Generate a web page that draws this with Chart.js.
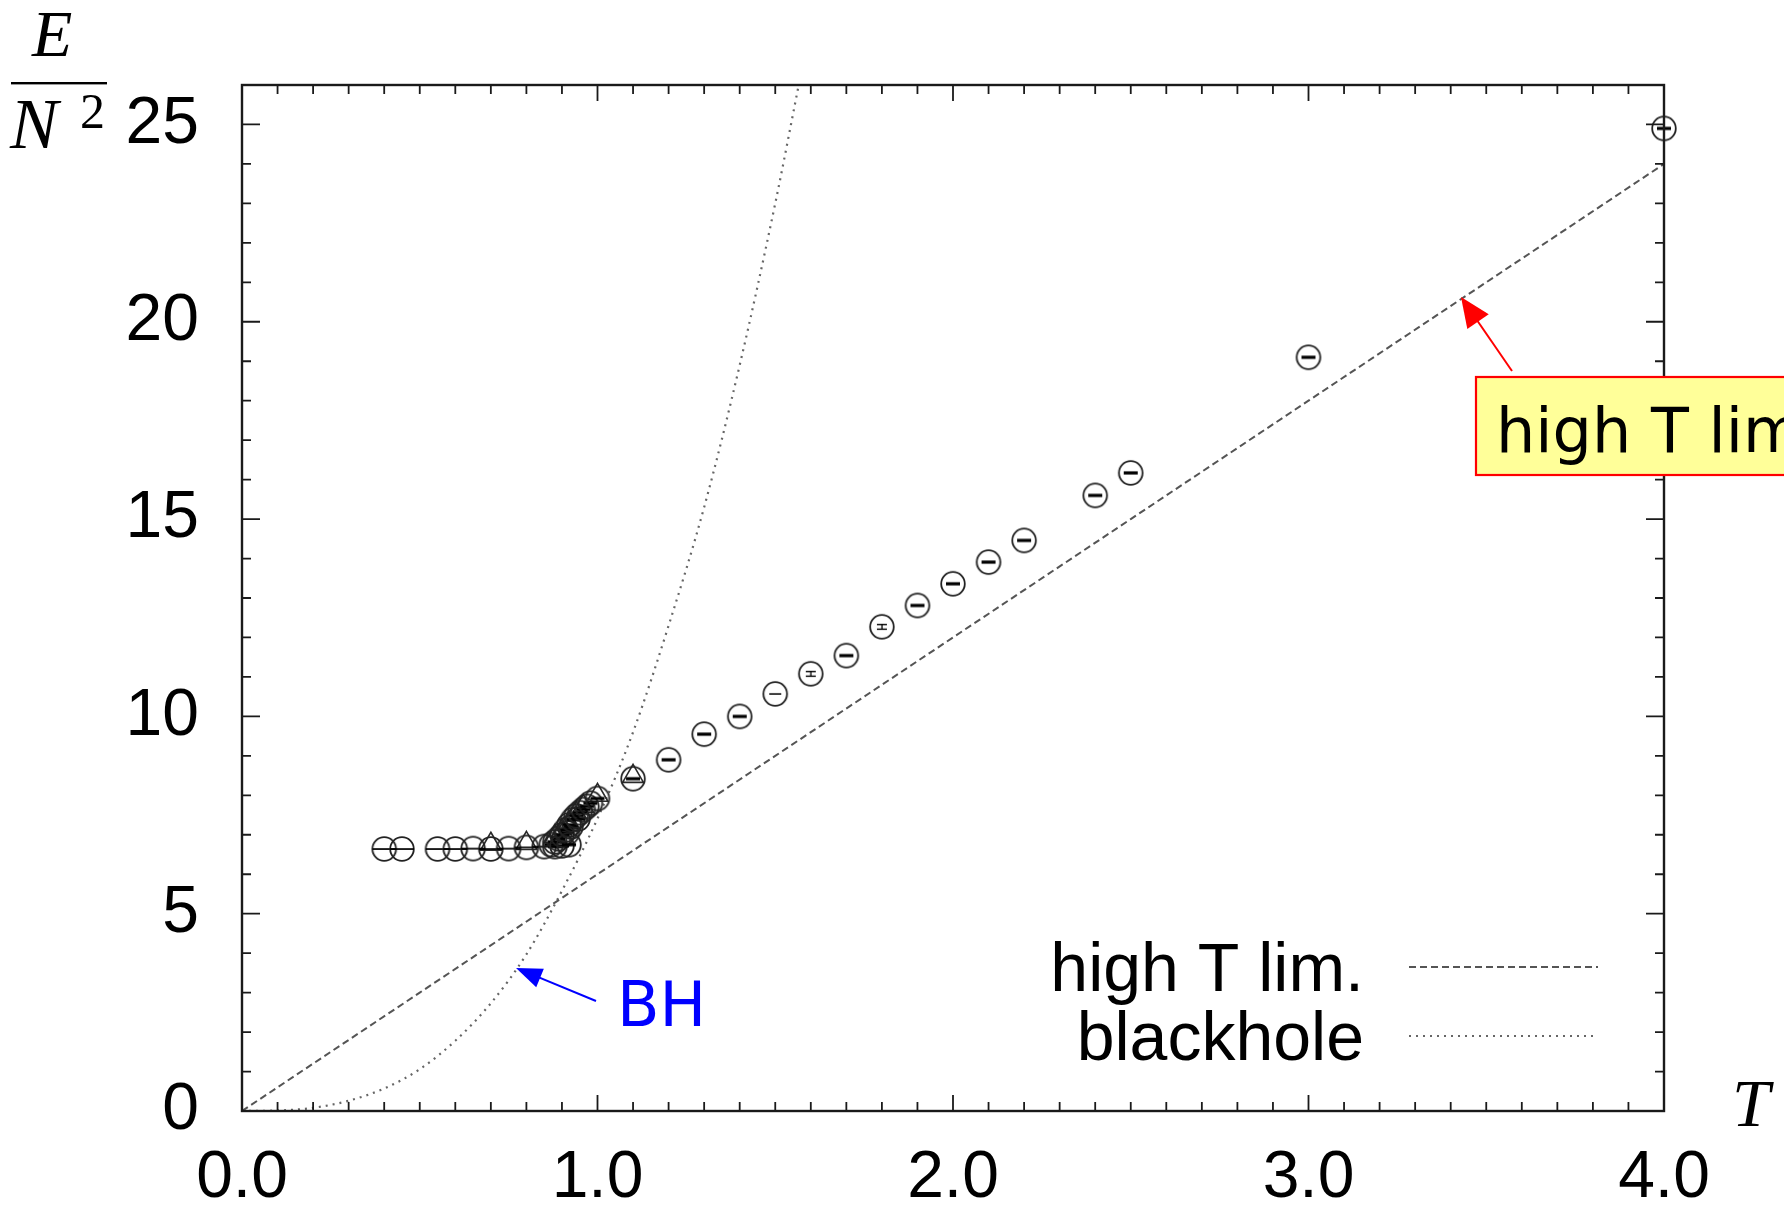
<!DOCTYPE html>
<html><head><meta charset="utf-8">
<script src="https://cdn.jsdelivr.net/npm/chart.js@4.4.1/dist/chart.umd.min.js"></script>
<style>html,body{margin:0;padding:0;background:#fff;}canvas{display:block;}</style>
</head><body>
<canvas id="c" width="1784" height="1210"></canvas>
<script>
// ---- data ----
const circleT = [0.40,0.45,0.55,0.60,0.65,0.70,0.75,0.80,0.85,0.87,0.88,0.88,0.89,0.90,0.90,0.91,0.915,0.92,0.92,0.925,0.93,0.94,0.945,0.95,0.96,0.97,0.98,1.00,1.10,1.20,1.30,1.40,1.50,1.60,1.70,1.80,1.90,2.00,2.10,2.20,2.40,2.50,3.00,4.00];
const circleE = [6.64,6.64,6.64,6.64,6.65,6.64,6.65,6.68,6.70,6.75,6.70,6.82,6.90,6.72,7.00,7.12,7.05,6.75,7.25,7.20,7.38,7.48,7.40,7.56,7.64,7.72,7.80,7.92,8.42,8.90,9.55,10.00,10.57,11.08,11.54,12.27,12.81,13.36,13.91,14.46,15.60,16.17,19.10,24.90];
const triT = [0.70,0.80,0.88,0.90,0.92,0.94,0.96,1.00,1.10];
const triE = [6.76,6.78,6.95,7.10,7.30,7.55,7.72,8.00,8.48];
const highT_T = [0,0.5,1.0,1.5,2.0,2.5,3.0,3.5,4.0];
const highT_E = [0,3.0,6.0,9.0,12.0,15.0,18.0,21.0,24.0];
const bhT = [0,0.1,0.2,0.3,0.4,0.5,0.6,0.7,0.8,0.9,1.0,1.1,1.2,1.3,1.4,1.5,1.566];
const bhE = [0,0.012,0.08,0.26,0.57,1.06,1.78,2.73,3.97,5.58,7.41,9.6,12.3,15.3,18.9,23.0,26.0];
const xTickLabels = ['0.0','1.0','2.0','3.0','4.0'];
const yTickLabels = ['0','5','10','15','20','25'];
const legendLabels = ['high T lim.','blackhole'];

const pts = (xs, ys) => xs.map((v,i)=>({x:v, y:ys[i]}));
const isInt = v => Math.abs(v - Math.round(v)) < 1e-6;

// ---- marker images ----
function marker(kind){
  const c = document.createElement('canvas'); c.width = 30; c.height = 30;
  const g = c.getContext('2d');
  g.strokeStyle = '#222'; g.lineWidth = 1.8;
  g.beginPath(); g.arc(15,15,11.8,0,Math.PI*2); g.stroke();
  g.fillStyle = '#000';
  if (kind === 'low') { g.fillRect(3,14.2,24,1.7); }
  else if (kind === 'mid') { g.fillRect(8,13.4,14,3.2); }
  else if (kind === 'thin') { g.fillRect(9,14.3,12,1.5); }
  else if (kind === 'H') { g.fillRect(10,12,10,1.4); g.fillRect(10,16.7,10,1.4); g.fillRect(14.4,12,1.3,6); }
  return c;
}
const mk = {low:marker('low'), mid:marker('mid'), thin:marker('thin'), H:marker('H')};
function circleStyle(ctx){
  const p = ctx.raw; if (!p) return mk.mid;
  if (p.x < 0.86) return mk.low;
  if (Math.abs(p.x-1.6)<1e-6 || Math.abs(p.x-1.8)<1e-6) return mk.H;
  if (Math.abs(p.x-1.5)<1e-6) return mk.thin;
  return mk.mid;
}

function arrow(ctx, x1,y1,x2,y2, color, lw, headL, headW){
  const ang = Math.atan2(y2-y1, x2-x1);
  ctx.save();
  ctx.strokeStyle = color; ctx.fillStyle = color; ctx.lineWidth = lw;
  ctx.beginPath(); ctx.moveTo(x1,y1);
  ctx.lineTo(x2 - Math.cos(ang)*headL*0.8, y2 - Math.sin(ang)*headL*0.8); ctx.stroke();
  ctx.translate(x2,y2); ctx.rotate(ang);
  ctx.beginPath(); ctx.moveTo(0,0); ctx.lineTo(-headL, headW/2); ctx.lineTo(-headL, -headW/2); ctx.closePath(); ctx.fill();
  ctx.restore();
}

const framePlugin = {
  id:'frame',
  afterDatasetsDraw(chart){
    const {ctx, chartArea:a, scales:{x,y}} = chart;
    ctx.save();
    ctx.strokeStyle = '#1a1a1a'; ctx.lineWidth = 2.4;
    ctx.strokeRect(a.left, a.top, a.right-a.left, a.bottom-a.top);
    ctx.lineWidth = 1.8; ctx.beginPath();
    x.ticks.forEach(t=>{
      const px = x.getPixelForValue(t.value);
      const L = isInt(t.value) ? 16 : 9;
      ctx.moveTo(px, a.bottom); ctx.lineTo(px, a.bottom - L);
      ctx.moveTo(px, a.top); ctx.lineTo(px, a.top + L);
    });
    y.ticks.forEach(t=>{
      const py = y.getPixelForValue(t.value);
      const L = (Math.round(t.value) % 5 === 0) ? 18 : 9;
      ctx.moveTo(a.left, py); ctx.lineTo(a.left + L, py);
      ctx.moveTo(a.right, py); ctx.lineTo(a.right - L, py);
    });
    ctx.stroke();
    ctx.restore();
  },
  afterDraw(chart){
    const ctx = chart.ctx;
    const ds = chart.data.datasets;
    ctx.save();
    // legend (inside plot, bottom right)
    const rows = [{d:ds[2], y:967}, {d:ds[3], y:1036}];
    ctx.font = '68px "Liberation Sans", Arial, sans-serif';
    ctx.textAlign = 'right'; ctx.textBaseline = 'alphabetic'; ctx.fillStyle = '#000';
    rows.forEach(r=>{
      ctx.fillText(r.d.label, 1364, r.y + 24);
      ctx.save();
      ctx.strokeStyle = r.d.borderColor; ctx.lineWidth = r.d.borderWidth;
      ctx.setLineDash(r.d.borderDash);
      ctx.beginPath(); ctx.moveTo(1409, r.y); ctx.lineTo(1598, r.y); ctx.stroke();
      ctx.restore();
    });
    // axis titles
    ctx.textAlign = 'left';
    ctx.font = 'italic 66px "Liberation Serif", "Times New Roman", serif';
    ctx.fillText('E', 32, 56);
    ctx.fillRect(11, 82, 96, 2.4);
    ctx.font = 'italic 72px "Liberation Serif", "Times New Roman", serif';
    ctx.fillText('N', 10, 148);
    ctx.font = '50px "Liberation Serif", "Times New Roman", serif';
    ctx.fillText('2', 80, 128);
    ctx.font = 'italic 68px "Liberation Serif", "Times New Roman", serif';
    ctx.fillText('T', 1732, 1126);
    // yellow annotation box
    ctx.fillStyle = '#ffff99'; ctx.fillRect(1476, 377, 330, 98);
    ctx.strokeStyle = '#ff0000'; ctx.lineWidth = 2.2; ctx.strokeRect(1476, 377, 330, 98);
    ctx.fillStyle = '#000'; ctx.font = '62px "DejaVu Sans", Verdana, sans-serif';
    ctx.fillText('high T lim.', 1496, 452);
    arrow(ctx, 1512, 371, 1461, 297, '#ff0000', 2, 30, 26);
    // BH annotation
    ctx.fillStyle = '#0000ff'; ctx.font = '62px "DejaVu Sans", Verdana, sans-serif';
    ctx.fillText('BH', 617, 1026);
    arrow(ctx, 596, 1001, 516, 968, '#0000ff', 2, 26, 20);
    ctx.restore();
  }
};

new Chart(document.getElementById('c'), {
  type:'scatter',
  data:{ datasets:[
    {label:'circles', data:pts(circleT,circleE), pointStyle:circleStyle, pointRadius:12, showLine:false, clip:false},
    {label:'triangles', data:pts(triT,triE), pointStyle:'triangle', pointRadius:12, borderColor:'#2a2a2a', borderWidth:1.6, backgroundColor:'rgba(0,0,0,0)', showLine:false, clip:false},
    {label:legendLabels[0], data:pts(highT_T,highT_E), showLine:true, pointRadius:0, borderColor:'#555', borderWidth:2, borderDash:[7,4], fill:false},
    {label:legendLabels[1], data:pts(bhT,bhE), showLine:true, pointRadius:0, borderColor:'#666', borderWidth:2.2, borderDash:[2,5], cubicInterpolationMode:'monotone', fill:false}
  ]},
  options:{
    responsive:false, animation:false, devicePixelRatio:1,
    layout:{padding:{left:0, top:85, right:120, bottom:0}},
    plugins:{legend:{display:false}, tooltip:{enabled:false}},
    scales:{
      x:{type:'linear', min:0, max:4,
         afterFit(s){ s.height = 99; },
         grid:{display:false, drawTicks:false}, border:{display:false},
         ticks:{stepSize:0.1, autoSkip:false, maxRotation:0, padding:28, color:'#000',
                font:{family:'"Liberation Sans", Arial, sans-serif', size:66},
                callback:(v)=> isInt(v) ? xTickLabels[Math.round(v)] : ''}},
      y:{type:'linear', min:0, max:26,
         afterFit(s){ s.width = 242; },
         grid:{display:false, drawTicks:false}, border:{display:false},
         ticks:{stepSize:1, autoSkip:false, padding:43, color:'#000',
                font:{family:'"Liberation Sans", Arial, sans-serif', size:66},
                callback:(v)=> (Math.round(v)%5===0) ? yTickLabels[Math.round(v)/5] : ''}}
    }
  },
  plugins:[framePlugin]
});
</script>
</body></html>
